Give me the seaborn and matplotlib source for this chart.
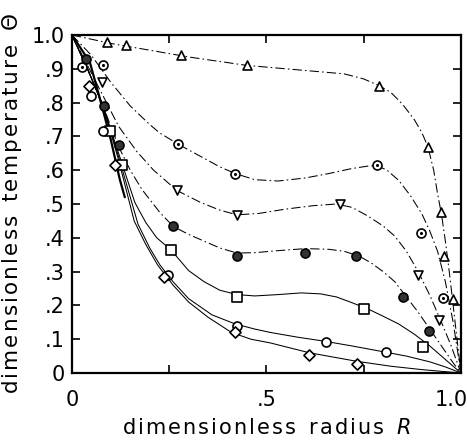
import matplotlib
matplotlib.use("Agg")
import matplotlib.pyplot as plt
import seaborn as sns
from matplotlib.ticker import FixedLocator, FixedFormatter

tri_up_r = [0.09, 0.14, 0.28, 0.45, 0.79, 0.915, 0.949, 0.956, 0.979]
tri_up_t = [0.98, 0.97, 0.94, 0.91, 0.85, 0.67, 0.475, 0.345, 0.22]
odot_r = [0.025, 0.08, 0.273, 0.42, 0.784, 0.897, 0.953]
odot_t = [0.905, 0.91, 0.677, 0.59, 0.615, 0.415, 0.222]
tri_dn_r = [0.077, 0.27, 0.424, 0.69, 0.89, 0.944]
tri_dn_t = [0.86, 0.54, 0.466, 0.50, 0.29, 0.157]
dot_r = [0.036, 0.082, 0.12, 0.26, 0.424, 0.6, 0.73, 0.85, 0.918]
dot_t = [0.93, 0.79, 0.675, 0.434, 0.347, 0.356, 0.345, 0.226, 0.125]
sq_r = [0.098, 0.128, 0.254, 0.424, 0.75, 0.902]
sq_t = [0.715, 0.615, 0.365, 0.225, 0.19, 0.078]
circ_r = [0.05, 0.08, 0.248, 0.424, 0.653, 0.807]
circ_t = [0.82, 0.715, 0.29, 0.14, 0.093, 0.062]
dia_r = [0.045, 0.11, 0.237, 0.42, 0.61, 0.733]
dia_t = [0.85, 0.615, 0.285, 0.122, 0.053, 0.027]

# calculated curves, points
ref_r = [0, 0.046, 0.077, 0.1, 0.123, 0.136]
ref_t = [1, 0.92, 0.79, 0.69, 0.573, 0.52]
c_tri_up_r = [0, 0.1, 0.2, 0.3, 0.45, 0.6, 0.7, 0.75, 0.79, 0.82, 0.85, 0.88, 0.9, 0.915,
              0.93, 0.94, 0.95, 0.96, 0.97, 0.98, 0.99, 1.0]
c_tri_up_t = [1, 0.975, 0.955, 0.935, 0.91, 0.895, 0.885, 0.87, 0.85, 0.83, 0.795, 0.75, 0.71, 0.67,
              0.6, 0.53, 0.47, 0.39, 0.3, 0.2, 0.1, 0]
c_odot_r = [0, 0.05, 0.1, 0.15, 0.2, 0.226, 0.273, 0.3, 0.34, 0.38, 0.42, 0.47, 0.53, 0.6, 0.66,
            0.72, 0.76, 0.784, 0.81, 0.84, 0.87, 0.9, 0.92, 0.94, 0.96, 0.98, 1.0]
c_odot_t = [1, 0.94, 0.86, 0.79, 0.735, 0.71, 0.677, 0.66, 0.635, 0.61, 0.59, 0.572, 0.568, 0.577, 0.59,
            0.605, 0.612, 0.614, 0.6, 0.57, 0.525, 0.47, 0.42, 0.36, 0.27, 0.15, 0]
c_tri_dn_r = [0, 0.04, 0.08, 0.12, 0.167, 0.21, 0.27, 0.33, 0.38, 0.424, 0.48, 0.55, 0.62, 0.68,
              0.72, 0.76, 0.8, 0.83, 0.86, 0.89, 0.92, 0.95, 0.975, 1.0]
c_tri_dn_t = [1, 0.91, 0.82, 0.73, 0.655, 0.6, 0.54, 0.505, 0.482, 0.468, 0.472, 0.485, 0.495, 0.5,
              0.49, 0.465, 0.435, 0.405, 0.36, 0.3, 0.23, 0.15, 0.08, 0]
c_dot_r = [0, 0.04, 0.08, 0.12, 0.15, 0.18, 0.226, 0.26, 0.3, 0.33, 0.38, 0.424, 0.47, 0.53, 0.6,
           0.66, 0.7, 0.74, 0.77, 0.8, 0.83, 0.86, 0.89, 0.92, 0.95, 0.98, 1.0]
c_dot_t = [1, 0.9, 0.79, 0.67, 0.6, 0.543, 0.475, 0.434, 0.41, 0.395, 0.37, 0.355, 0.356, 0.362, 0.368,
           0.366, 0.36, 0.345, 0.325, 0.3, 0.27, 0.225, 0.18, 0.13, 0.08, 0.03, 0]
c_sq_r = [0, 0.04, 0.08, 0.12, 0.162, 0.19, 0.218, 0.254, 0.3, 0.34, 0.38, 0.424, 0.47, 0.53, 0.59,
          0.64, 0.68, 0.72, 0.76, 0.8, 0.84, 0.88, 0.92, 0.96, 1.0]
c_sq_t = [1, 0.9, 0.79, 0.65, 0.504, 0.445, 0.4, 0.365, 0.303, 0.27, 0.245, 0.232, 0.228, 0.232, 0.237,
          0.234, 0.225, 0.208, 0.19, 0.168, 0.145, 0.115, 0.08, 0.04, 0]
c_circ_r = [0, 0.04, 0.08, 0.12, 0.17, 0.2, 0.226, 0.26, 0.3, 0.36, 0.42, 0.47, 0.51, 0.58, 0.65,
            0.72, 0.8, 0.86, 0.92, 0.96, 1.0]
c_circ_t = [1, 0.9, 0.79, 0.64, 0.44, 0.37, 0.32, 0.27, 0.22, 0.172, 0.145, 0.13, 0.12, 0.106, 0.094,
            0.08, 0.063, 0.05, 0.033, 0.018, 0]
c_dia_r = [0, 0.04, 0.08, 0.12, 0.16, 0.19, 0.22, 0.26, 0.3, 0.35, 0.41, 0.46, 0.51, 0.61, 0.73,
           0.82, 0.9, 1.0]
c_dia_t = [1, 0.9, 0.79, 0.63, 0.45, 0.38, 0.32, 0.26, 0.21, 0.165, 0.12, 0.1, 0.089, 0.06, 0.035,
           0.02, 0.01, 0]

y_ticks = [0, 0.1, 0.2, 0.3, 0.4, 0.5, 0.6, 0.7, 0.8, 0.9, 1.0]
y_labels = ["0", ".1", ".2", ".3", ".4", ".5", ".6", ".7", ".8", ".9", "1.0"]
x_ticks = [0, 0.25, 0.5, 0.75, 1.0]
x_labels = ["0", "", ".5", "", ""]
x_end_label = "1.0"


def spaced(word):
    # the original lettering is widely tracked
    return "\u200a".join(word)


sns.set_style("ticks")
plt.rcParams["font.family"] = ["DejaVu Sans"]
plt.rcParams.update({"text.color": "black", "axes.labelcolor": "black",
                     "xtick.color": "black", "ytick.color": "black",
                     "xtick.labelcolor": "black", "ytick.labelcolor": "black"})

fig = plt.figure(figsize=(4.67, 4.43), dpi=100)
ax = fig.add_axes([0.154, 0.158, 0.833, 0.763])

dashdot = (0, (9, 3, 1.5, 3))
lw = 0.75
sns.lineplot(x=ref_r, y=ref_t, ax=ax, color="black", lw=1.6, sort=False, estimator=None)
for cr, ct, ls in [(c_tri_up_r, c_tri_up_t, dashdot), (c_odot_r, c_odot_t, dashdot),
                   (c_tri_dn_r, c_tri_dn_t, dashdot), (c_dot_r, c_dot_t, dashdot),
                   (c_sq_r, c_sq_t, "-"), (c_circ_r, c_circ_t, "-"), (c_dia_r, c_dia_t, "-")]:
    sns.lineplot(x=cr, y=ct, ax=ax, color="black", lw=lw, linestyle=ls,
                 sort=False, estimator=None)

open_kw = dict(facecolor="white", edgecolor="black", linewidth=1.2, s=42, zorder=5)
sns.scatterplot(x=tri_up_r, y=tri_up_t, marker="^", ax=ax, **open_kw)
sns.scatterplot(x=odot_r, y=odot_t, marker="o", ax=ax, **open_kw)
sns.scatterplot(x=odot_r, y=odot_t, marker="o", ax=ax, color="black", s=5, linewidth=0, zorder=6)
sns.scatterplot(x=tri_dn_r, y=tri_dn_t, marker="v", ax=ax, **open_kw)
sns.scatterplot(x=dot_r, y=dot_t, marker="o", ax=ax, facecolor="#333333", edgecolor="black",
                linewidth=1.2, s=42, zorder=5)
sns.scatterplot(x=sq_r, y=sq_t, marker="s", ax=ax, **open_kw)
sns.scatterplot(x=circ_r, y=circ_t, marker="o", ax=ax, **open_kw)
sns.scatterplot(x=dia_r, y=dia_t, marker="D", ax=ax, facecolor="white", edgecolor="black",
                linewidth=1.2, s=32, zorder=5)

ax.set_xlim(0, 1)
ax.set_ylim(0, 1)
ax.xaxis.set_major_locator(FixedLocator(x_ticks))
ax.xaxis.set_major_formatter(FixedFormatter(x_labels))
ax.yaxis.set_major_locator(FixedLocator(y_ticks))
ax.yaxis.set_major_formatter(FixedFormatter(y_labels))
ax.tick_params(direction="in", length=6, width=1.2, top=True, right=True, labelsize=15,
               color="black", labelcolor="black")
ax.tick_params(axis="x", pad=12)
ax.tick_params(axis="y", pad=5)
for sp in ax.spines.values():
    sp.set_linewidth(1.6)
    sp.set_color("black")

# the "1.0" at the right end sits flush with the page edge in the original
ax.annotate(x_end_label, xy=(1.0, 0.0), xycoords="axes fraction", xytext=(5, -12),
            textcoords="offset points", ha="right", va="top", fontsize=15, color="black")

ax.set_xlabel(spaced("dimensionless") + "  " + spaced("radius") + "  $R$", fontsize=15,
              labelpad=6, color="black")
ax.set_ylabel(spaced("dimensionless") + "  " + spaced("temperature") + r"  $\mathit{\Theta}$",
              fontsize=15.5, labelpad=6, color="black")

fig.savefig("out.png", dpi=100)
